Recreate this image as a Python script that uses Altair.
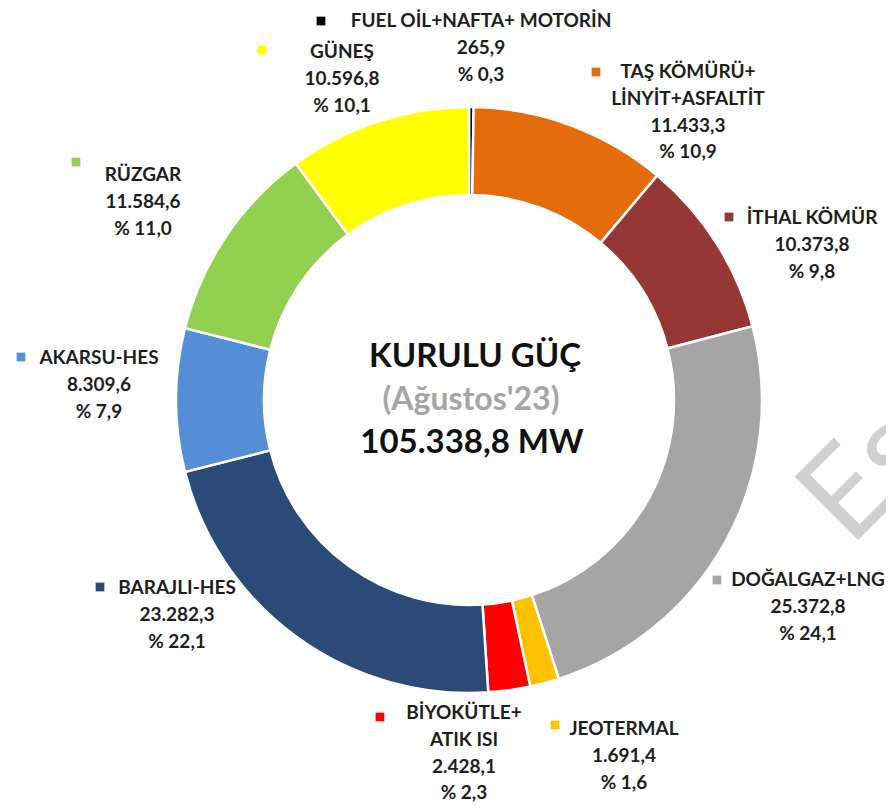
import altair as alt
import pandas as pd

# ---------------- data ----------------
categories = ["FUEL", "TAS", "ITHAL", "DOGALGAZ", "JEOTERMAL",
              "BIYOKUTLE", "BARAJLI", "AKARSU", "RUZGAR", "GUNES"]
names = [
    ["FUEL OİL+NAFTA+ MOTORİN"],
    ["TAŞ KÖMÜRÜ+", "LİNYİT+ASFALTİT"],
    ["İTHAL KÖMÜR"],
    ["DOĞALGAZ+LNG"],
    ["JEOTERMAL"],
    ["BİYOKÜTLE+", "ATIK ISI"],
    ["BARAJLI-HES"],
    ["AKARSU-HES"],
    ["RÜZGAR"],
    ["GÜNEŞ"],
]
values = [265.9, 11433.3, 10373.8, 25372.8, 1691.4, 2428.1, 23282.3, 8309.6, 11584.6, 10596.8]
percents = [0.3, 10.9, 9.8, 24.1, 1.6, 2.3, 22.1, 7.9, 11.0, 10.1]
colors = ["#000000", "#E46C0A", "#953735", "#A5A5A5", "#FFC000",
          "#FF0000", "#2C4A78", "#558ED5", "#92D050", "#FFFF00"]
title_lines = ["KURULU GÜÇ", "(Ağustos'23)", "105.338,8 MW"]

# ---------------- layout (page px -> chart px) ----------------
OFF = 8
CX, CY = 469 - OFF, 400 - OFF
R_OUT, R_IN = 293, 205
LH = 26.8
# square x, square y, text centre x, first line y   (page coordinates)
label_layout = {
    "FUEL": (321, 21, 481, 21),
    "TAS": (596, 72, 688, 72),
    "ITHAL": (729, 217, 812, 218),
    "DOGALGAZ": (717, 580, 808, 580),
    "JEOTERMAL": (555, 725, 624, 729),
    "BIYOKUTLE": (380, 717, 464, 713),
    "BARAJLI": (100, 587, 177, 588),
    "AKARSU": (21, 357, 99, 358),
    "RUZGAR": (76, 162, 143, 175),
    "GUNES": (262, 50, 342, 52),
}


def tr_num(v):
    s = f"{v:,.1f}"
    return s.replace(",", "X").replace(".", ",").replace("X", ".")


def tr_pct(p):
    return "% " + f"{p:.1f}".replace(".", ",")


arc_df = pd.DataFrame({"cat": categories, "value": values, "order": list(range(len(categories)))})

line_rows, sq_rows = [], []
for cat, nm, v, p in zip(categories, names, values, percents):
    sx, sy, tx, ty = label_layout[cat]
    sq_rows.append({"cat": cat, "x": sx - OFF, "y": sy - OFF})
    for i, t in enumerate(nm + [tr_num(v), tr_pct(p)]):
        line_rows.append({"cat": cat, "text": t, "x": tx - OFF, "y": ty - OFF + i * LH})
lines_df = pd.DataFrame(line_rows)
sq_df = pd.DataFrame(sq_rows)

color = alt.Color("cat:N", scale=alt.Scale(domain=categories, range=colors), legend=None)

arcs = alt.Chart(arc_df).mark_arc(
    innerRadius=R_IN, outerRadius=R_OUT, stroke="white", strokeWidth=2.5
).encode(
    theta=alt.Theta("value:Q", stack=True),
    order=alt.Order("order:Q"),
    color=color,
    x=alt.value(CX), y=alt.value(CY),
)

squares = alt.Chart(sq_df).mark_square(size=76, opacity=1).encode(
    x=alt.X("x:Q", scale=None, axis=None),
    y=alt.Y("y:Q", scale=None, axis=None),
    color=color,
)

labels = alt.Chart(lines_df).mark_text(
    font="Lato", fontWeight="bold", fontSize=19, color="#1E1E1E",
    align="center", baseline="middle",
).encode(
    x=alt.X("x:Q", scale=None, axis=None),
    y=alt.Y("y:Q", scale=None, axis=None),
    text="text:N",
)

t1 = alt.Chart(pd.DataFrame({"t": [title_lines[0]]})).mark_text(
    font="Lato", fontWeight="bold", fontSize=33, color="#111111", align="center", baseline="middle"
).encode(text="t:N", x=alt.value(475 - OFF), y=alt.value(357 - OFF))
t2 = alt.Chart(pd.DataFrame({"t": [title_lines[1]]})).mark_text(
    font="Lato", fontWeight="bold", fontSize=32, color="#A6A6A6", align="center", baseline="middle"
).encode(text="t:N", x=alt.value(471 - OFF), y=alt.value(400 - OFF))
t3 = alt.Chart(pd.DataFrame({"t": [title_lines[2]]})).mark_text(
    font="Lato", fontWeight="bold", fontSize=33, color="#111111", align="center", baseline="middle"
).encode(text="t:N", x=alt.value(472 - OFF), y=alt.value(443 - OFF))

wm = alt.Chart(pd.DataFrame({"t": ["Es"]})).mark_text(
    font="Lato", fontWeight="normal", fontSize=125, color="#D0D0D0",
    align="left", baseline="alphabetic", angle=315,
).encode(text="t:N", x=alt.value(850 - OFF), y=alt.value(548 - OFF))

chart = alt.layer(wm, arcs, squares, labels, t1, t2, t3).properties(
    width=878, height=794, padding=0, autosize=alt.AutoSizeParams(type="none"),
    background="white",
).configure_view(stroke=None)

chart.save("out.html", embed_options={"renderer": "svg", "actions": False})
